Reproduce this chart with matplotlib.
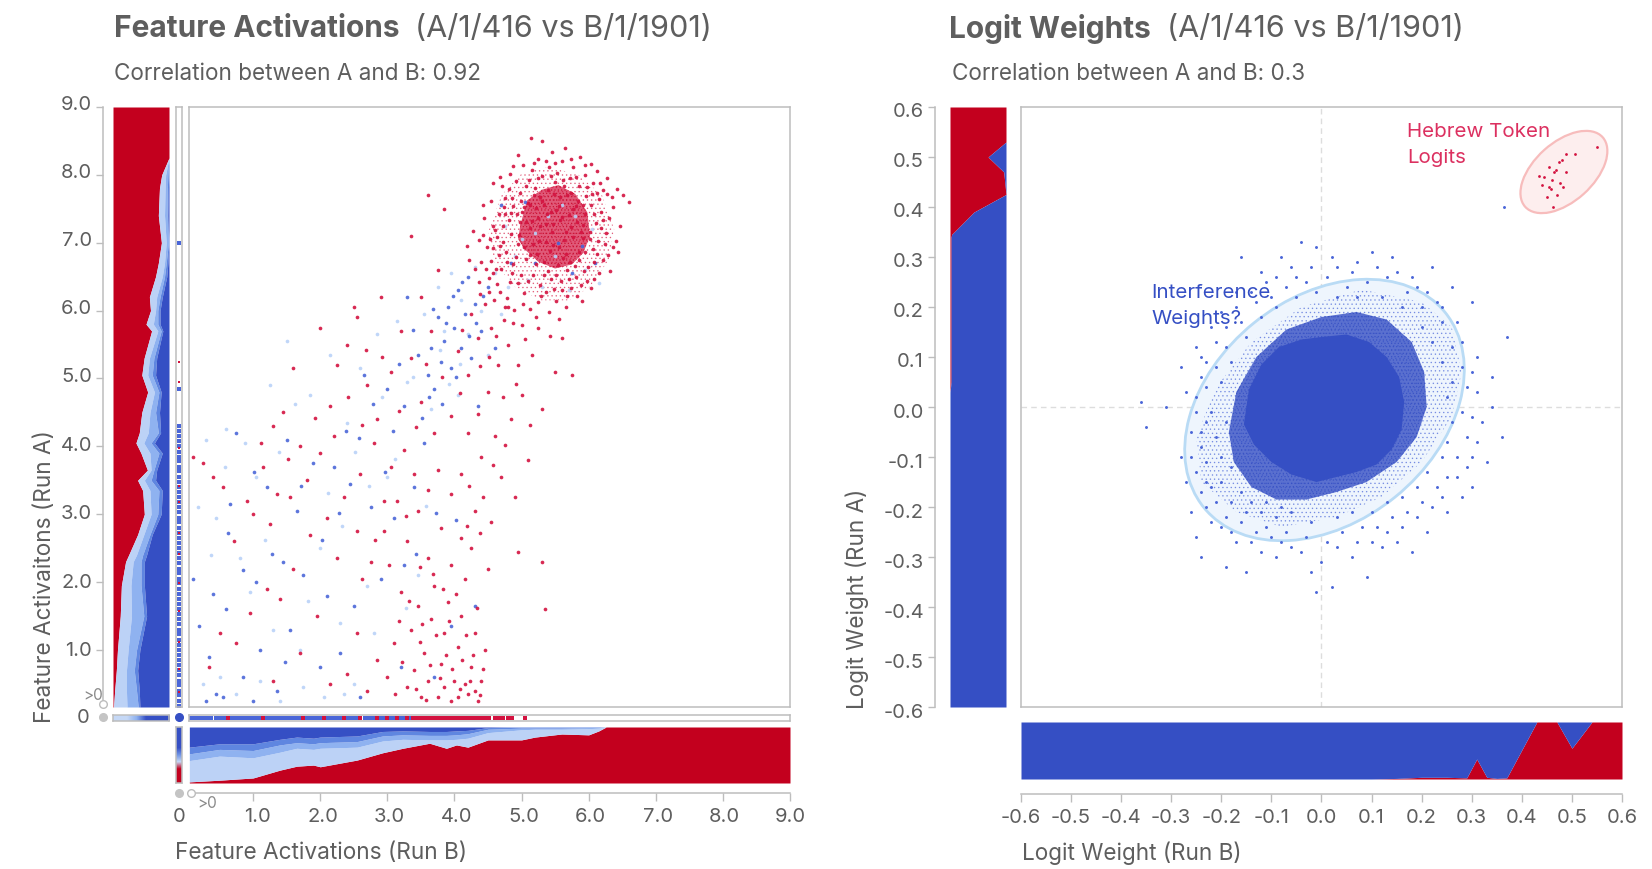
"""Feature activations and logit weights, run A vs run B, with stacked marginals.
Point lists are a hand-read sample of the reference; dense cores are drawn as outlines."""

import matplotlib
matplotlib.use('Agg')
import matplotlib.pyplot as plt
from matplotlib.colors import LinearSegmentedColormap
from matplotlib.patches import Ellipse, Polygon
from matplotlib.transforms import ScaledTranslation

W, H = 1652, 869
plt.rcParams['font.family'] = ['Inter', 'DejaVu Sans']
plt.rcParams['hatch.linewidth'] = 0.5

RED = '#c3001e'
BLUE = '#354fc4'
DOT_RED = '#d3123f'
DOT_BLUE = '#4a66d8'
DOT_PALE = '#bad2f8'
GREY = '#5e5e5e'
LINE = '#bdbdbd'
BANDS = ['#bcd2f6', '#8fb2f0', '#5f86e0']

# left marginal of the activation panel: stacked share at each activation level
a_y = [9, 8.3, 8.25, 8.0, 7.8, 7.4, 7.0, 6.7, 6.5, 6.2, 6.0, 5.8, 5.7, 5.3, 5.05, 4.8, 4.5, 4.2, 4.05, 3.9,
       3.65, 3.5, 3.35, 3.0, 2.7, 2.4, 2.3, 1.95, 1.5, 1.0, .7, .4, .16]
a_red = [1, 1, 1, .87, .83, .81, .865, .81, .76, .65, .67, .59, .69, .556, .515, .62, .515, .47, .41, .5,
         .615, .44, .53, .56, .44, .28, .225, .15, .13, .08, .06, .03, .01]
a_pale = [1, 1, 1, .94, .93, .92, .95, .92, .88, .78, .76, .72, .8, .65, .62, .74, .66, .63, .55, .66,
          .68, .56, .66, .68, .55, .42, .36, .32, .33, .27, .24, .24, .25]
a_sky = [1, 1, 1, .98, .97, .97, .99, .95, .92, .84, .8, .8, .86, .73, .7, .82, .76, .81, .68, .82,
         .73, .68, .82, .8, .66, .53, .5, .5, .55, .42, .38, .42, .45]
a_mid = [1, 1, 1, 1, .99, .98, 1, .98, .96, .88, .84, .84, .89, .78, .76, .86, .83, .85, .74, .88,
         .78, .76, .88, .86, .7, .6, .56, .56, .6, .48, .44, .47, .48]

# bottom marginal of the activation panel
b_x = [.05, .5, 1.0, 1.4, 1.65, 1.9, 2.0, 2.55, 2.93, 3.23, 3.63, 3.88, 4.03, 4.2, 4.5, 5.0, 5.2, 5.6, 6.0, 6.15, 6.26, 9]
b_red = [.02, .05, .09, .23, .3, .32, .29, .41, .54, .62, .71, .62, .68, .64, .77, .77, .82, .875, .86, .93, 1, 1]
b_pale = [.4, .48, .45, .55, .62, .6, .62, .64, .75, .78, .77, .77, .78, .8, .9, .95, .96, .96, .97, .98, 1, 1]
b_sky = [.52, .6, .58, .68, .72, .7, .72, .74, .84, .86, .85, .85, .86, .88, .96, .98, .98, .98, .99, .99, 1, 1]
b_mid = [.64, .7, .7, .78, .82, .8, .82, .84, .92, .93, .92, .92, .93, .94, .99, 1, 1, 1, 1, 1, 1, 1]

# marginals of the logit panel
r_y = [.6, .53, .5, .47, .425, .39, .345, .34, .05, .03, -.6]
r_red = [1, 1, .68, .96, 1, .43, .03, .02, .02, 0, 0]
s_x = [-.6, .1, .15, .2, .25, .29, .31, .33, .35, .37, .43, .47, .5, .54, .6]
s_red = [0, 0, .01, .03, .03, .02, .35, .03, .01, .02, 1, 1, .54, 1, 1]

# activation scatter, cluster near (5.45, 7.3)
cluster_red = [
    (5.14, 8.55), (5.65, 8.4), (5.3, 8.5), (4.95, 8.3), (5.45, 8.33), (5.02, 8.15), (5.87, 8.27), (5.6, 8.2), (5.25, 8.24),
    (6.13, 8.05), (5.77, 8.11), (5.41, 8.12), (5.16, 8.07), (4.83, 8.02), (5.95, 8.0), (6.27, 7.96), (5.53, 8.03), (5.31, 7.99),
    (4.71, 7.83), (4.92, 7.91), (5.11, 7.93), (5.72, 7.96), (6.07, 7.88), (6.42, 7.79), (5.5, 7.9), (5.86, 7.84), (6.22, 7.77),
    (6.6, 7.6), (6.51, 7.71), (4.55, 7.61), (4.76, 7.66), (4.97, 7.74), (5.2, 7.81), (5.39, 7.78), (5.63, 7.83), (5.74, 7.74),
    (5.96, 7.69), (6.16, 7.64), (6.36, 7.53), (6.31, 7.36), (6.47, 7.24), (6.19, 7.46), (6.04, 7.56), (5.84, 7.61), (5.67, 7.7),
    (5.49, 7.72), (5.28, 7.67), (5.09, 7.59), (4.88, 7.54), (4.66, 7.43), (4.44, 7.36), (4.61, 7.19), (4.81, 7.33), (5.01, 7.46),
    (5.21, 7.51), (5.34, 7.56), (5.56, 7.54), (5.76, 7.49), (5.94, 7.43), (6.11, 7.29), (6.26, 7.14), (6.14, 7.02), (6.37, 6.94),
    (6.02, 7.16), (5.83, 7.31), (5.71, 7.41), (5.44, 7.46), (5.24, 7.37), (5.06, 7.31), (4.84, 7.13), (4.72, 7.01), (4.49, 6.94),
    (4.36, 7.04), (4.54, 6.73), (4.77, 6.86), (4.96, 7.11), (5.13, 7.21), (5.36, 7.27), (5.57, 7.33), (5.73, 7.23), (5.91, 7.07),
    (6.06, 6.91), (6.21, 6.74), (5.99, 6.64), (5.86, 6.87), (5.64, 7.04), (5.46, 7.16), (5.26, 7.03), (5.04, 6.94), (4.91, 6.79),
    (4.69, 6.61), (4.51, 6.48), (4.31, 6.62), (4.64, 6.39), (4.86, 6.56), (5.07, 6.76), (5.23, 6.84), (5.47, 6.96), (5.66, 6.83),
    (5.79, 6.66), (5.97, 6.44), (5.71, 6.46), (5.54, 6.67), (5.33, 6.71), (5.17, 6.53), (4.94, 6.41), (4.79, 6.19), (5.03, 6.26),
    (5.27, 6.38), (5.44, 6.46), (5.61, 6.31), (5.82, 6.21), (5.52, 6.14), (5.29, 6.22), (5.12, 6.03), (4.89, 6.01), (5.41, 5.98),
    (5.66, 6.06), (4.59, 6.16), (4.38, 6.24), (5.22, 5.91), (5.56, 5.88), (4.74, 5.86), (5.01, 5.79), (6.32, 6.58), (6.44, 6.86),
    (6.17, 7.88), (6.35, 7.68), (6.28, 7.72), (6.05, 7.72), (4.58, 7.88), (4.82, 7.79), (4.42, 7.56), (4.28, 7.18), (4.18, 6.95),
    (4.22, 6.74), (4.47, 6.62), (4.57, 6.92), (4.67, 6.82), (4.37, 6.42), (4.52, 6.28), (4.68, 6.28), (4.83, 6.42), (5.09, 6.44),
    (5.37, 6.27), (5.74, 6.33), (5.88, 6.38), (6.03, 6.34), (6.16, 6.56), (6.29, 6.82), (6.41, 7.02), (6.24, 6.98), (6.12, 6.84),
    (4.99, 6.52), (5.21, 6.68), (5.39, 6.58), (5.59, 6.44), (5.81, 6.5), (5.93, 6.58), (4.78, 6.72), (4.63, 7.08), (4.57, 7.24),
    (4.73, 7.24), (4.93, 7.42), (4.86, 7.66), (5.06, 7.84), (5.24, 7.95), (5.44, 7.98), (5.62, 7.92), (5.81, 7.97), (5.97, 7.82),
    (6.12, 7.74), (5.18, 8.17), (5.36, 8.2), (5.5, 8.18), (5.74, 8.24), (5.94, 8.14), (4.88, 8.13), (6.03, 8.16), (4.68, 7.97),
    (4.53, 7.05), (4.74, 7.52), (4.99, 7.62), (5.19, 7.7), (5.58, 7.68), (5.92, 7.56), (6.08, 7.42), (6.18, 7.22), (6.22, 7.34),
    (4.68, 6.95), (4.88, 6.68), (5.12, 6.82), (5.33, 6.52), (5.51, 6.52), (5.68, 6.6), (5.85, 6.74), (6.08, 6.72), (5.95, 6.86),
    (4.42, 7.12), (4.76, 7.42), (4.95, 6.98), (5.17, 6.98), (5.72, 6.72), (5.92, 7.26), (6.02, 7.05), (4.84, 7.44), (4.62, 6.62),
    (4.4, 6.72), (4.8, 6.05), (5.02, 6.1), (5.24, 6.12), (5.48, 6.32), (5.68, 6.22), (5.9, 6.14), (6.08, 6.46), (4.58, 6.55),
    (5.31, 7.62), (5.52, 7.48), (5.12, 7.55), (5.38, 7.42), (5.61, 7.38), (5.81, 7.54), (5.47, 7.28), (5.28, 7.25), (5.66, 7.16),
    (5.36, 7.01), (5.56, 6.93), (5.77, 7.08), (5.16, 7.32), (5.04, 7.52), (4.98, 7.3), (5.88, 7.16), (5.42, 6.88), (5.62, 6.78),
]

# activation scatter, the spread below the cluster
spread_red = [
    (.1, 3.85), (.25, 3.75), (.4, 3.55), (.55, 3.4), (.72, 2.6), (.91, 3.2), (1.15, 3.7), (1.3, 4.3), (1.45, 4.5), (1.6, 5.15),
    (1.8, 3.5), (2.0, 3.9), (2.15, 4.6), (2.25, 5.2), (2.4, 5.5), (2.55, 5.9), (2.7, 4.9), (2.85, 4.4), (3.05, 5.1), (3.2, 5.7),
    (3.35, 5.3), (3.5, 6.2), (3.65, 5.7), (3.75, 6.6), (3.85, 7.5), (3.6, 7.7), (3.35, 7.1), (2.9, 6.2), (2.5, 6.05), (2.0, 5.75),
    (4.05, 5.4), (4.2, 5.05), (4.35, 5.6), (4.5, 4.8), (4.65, 5.2), (4.8, 5.5), (5.0, 4.75), (5.15, 5.35), (5.3, 4.55), (5.5, 5.1),
    (5.75, 5.05), (4.85, 4.4), (4.6, 4.15), (4.4, 3.85), (4.2, 4.2), (3.95, 4.45), (3.7, 4.2), (3.5, 4.65), (3.25, 3.95), (3.05, 3.7),
    (2.8, 4.05), (2.6, 3.6), (2.35, 3.25), (2.1, 2.95), (1.85, 2.7), (1.6, 2.2), (1.4, 1.75), (1.2, 1.9), (.95, 1.55), (.75, 1.1),
    (.5, 1.25), (.35, .75), (1.0, 3.0), (1.25, 2.85), (1.55, 3.25), (2.25, 2.35), (2.55, 2.75), (2.75, 2.3), (2.95, 2.75), (3.15, 3.2),
    (3.3, 2.6), (3.45, 3.05), (3.6, 2.35), (3.8, 2.8), (3.95, 3.3), (4.1, 2.65), (4.3, 3.05), (4.5, 2.2), (4.95, 2.45), (5.3, 2.3),
    (5.35, 1.6), (3.2, 1.85), (3.35, 1.3), (3.45, 1.65), (3.55, .95), (3.65, 1.45), (3.7, 1.95), (3.8, .8), (3.85, 1.25), (3.9, 1.7),
    (4.0, .55), (4.05, 1.05), (4.1, 1.5), (4.15, 2.05), (4.2, .35), (4.25, .75), (4.3, 1.25), (4.35, .25), (4.4, .55), (4.45, 1.0),
    (3.3, .45), (3.4, .7), (3.5, .3), (3.6, .55), (3.75, .3), (3.85, .45), (3.95, .25), (4.05, .3), (4.15, .5), (4.3, .4),
    (3.0, .6), (3.1, 1.1), (2.85, .85), (2.7, .4), (2.55, 1.25), (2.4, .65), (2.15, .5), (1.95, 1.5), (1.7, .95), (1.3, .55),
    (3.95, 2.25), (4.25, 2.5), (3.6, 3.35), (3.4, 3.6), (3.75, 3.65), (4.1, 3.6), (4.7, 3.55), (4.9, 3.25), (5.1, 3.8), (4.75, 6.05),
    (4.55, 5.75), (4.25, 5.95), (4.45, 6.1), (4.95, 5.2), (5.25, 5.75), (5.6, 5.6), (2.95, 3.2), (2.2, 4.15), (1.7, 4.0), (1.35, 3.3),
    (3.12, .35), (3.22, .82), (3.42, .42), (3.48, 1.12), (3.58, .26), (3.63, .78), (3.72, 1.22), (3.78, .58), (3.88, .92), (3.92, 1.42),
    (3.97, .72), (4.02, 1.82), (4.08, .42), (4.12, .85), (4.17, 1.22), (4.23, .55), (4.28, .92), (4.33, 1.62), (4.38, .33), (4.42, .72),
    (3.52, 1.38), (3.33, 1.72), (3.18, 1.42), (3.68, 2.12), (3.83, 1.9), (3.48, 2.22), (3.28, 2.98), (3.02, 2.25), (2.82, 2.62), (2.62, 2.05),
    (4.18, 2.82), (4.38, 2.72), (4.55, 2.88), (4.22, 3.42), (4.42, 3.26), (4.58, 3.72), (4.75, 4.02), (4.35, 4.48), (4.08, 4.78), (3.82, 5.02),
    (3.58, 5.22), (3.42, 4.28), (3.18, 4.52), (2.92, 5.32), (2.68, 5.42), (2.42, 4.72), (2.62, 4.32), (1.92, 4.42), (1.52, 3.82), (1.12, 4.05),
    (4.52, 5.32), (4.72, 4.72), (4.92, 4.92), (5.12, 4.32), (5.42, 5.62), (5.05, 5.58), (4.88, 5.82), (4.62, 5.62), (4.38, 5.18), (4.12, 5.72),
]
blue_pts = [
    (.1, 2.05), (.2, 1.35), (.35, .9), (.45, .35), (.6, 1.6), (.65, 3.15), (.75, 4.2), (.85, .6), (1.05, 2.0), (1.1, 1.0),
    (1.2, 3.4), (1.35, .4), (1.45, 2.3), (1.55, 1.3), (1.65, 3.05), (1.75, 2.1), (1.9, 3.75), (2.0, .75), (2.1, 1.8), (2.3, .95),
    (2.45, 3.45), (2.5, 1.65), (2.65, 5.05), (2.75, 3.1), (2.9, 2.05), (3.0, 4.85), (3.1, 2.95), (3.25, 4.6), (3.3, 6.2), (3.4, 3.4),
    (3.45, 5.35), (3.55, 4.05), (3.6, 5.05), (3.65, 5.45), (3.7, 4.85), (3.75, 5.9), (3.8, 5.25), (3.85, 5.55), (3.9, 6.05), (3.95, 5.15),
    (4.0, 5.75), (4.05, 6.3), (4.1, 5.45), (4.15, 5.95), (4.2, 6.5), (4.25, 5.3), (4.3, 6.1), (4.35, 4.6), (4.4, 5.7), (4.5, 6.35),
    (4.6, 5.45), (4.7, 7.55), (4.85, 6.7), (5.05, 7.6), (5.2, 6.7), (5.75, 6.55), (5.55, 7.0), (5.9, 6.95), (6.1, 6.7), (4.3, 1.65),
    (3.95, 1.35), (3.7, .6), (3.2, .75), (3.25, 2.25), (2.6, .3), (1.0, .25), (.3, .25), (.55, .3), (2.2, 3.7), (1.5, 4.1),
    (.4, 1.82), (.62, 2.72), (.85, 2.18), (1.02, 3.62), (1.28, 2.42), (1.48, .82), (1.72, 3.42), (2.02, 2.62), (2.28, 3.02), (2.38, 4.22),
    (2.58, 4.12), (2.78, 4.62), (2.96, 3.62), (3.08, 4.22), (3.18, 5.22), (3.38, 5.72), (3.52, 4.42), (3.68, 6.02), (3.88, 5.82), (3.98, 6.22),
    (4.12, 6.42), (4.22, 5.62), (4.32, 5.82), (4.42, 6.22), (4.02, 5.02), (3.82, 4.62), (3.62, 4.72), (3.42, 2.42), (3.72, 3.02), (4.02, 2.92),
]
pale_pts = [
    (.3, 4.1), (.45, 2.95), (.6, 4.25), (.8, 2.35), (.95, 1.85), (1.05, 3.55), (1.25, 4.9), (1.3, 1.3), (1.5, 5.55), (1.7, 1.0),
    (1.85, 4.75), (2.0, 2.5), (2.15, 5.35), (2.3, 1.4), (2.4, 4.35), (2.6, 5.15), (2.7, 1.95), (2.85, 5.65), (3.0, 3.55), (3.15, 5.85),
    (3.3, 4.95), (3.45, 2.1), (3.55, 5.95), (3.65, 4.55), (3.75, 6.35), (3.85, 5.7), (3.95, 6.55), (4.05, 4.75), (4.1, 6.15), (4.2, 5.65),
    (4.3, 6.65), (4.4, 6.0), (4.5, 5.35), (4.6, 6.55), (4.7, 5.95), (4.8, 6.35), (4.9, 6.8), (5.0, 7.05), (5.1, 6.45), (5.2, 7.15),
    (5.3, 6.35), (5.4, 7.4), (5.5, 6.8), (5.6, 7.55), (5.7, 6.3), (5.8, 7.4), (5.95, 6.6), (6.05, 7.2), (6.15, 6.4), (4.75, 7.25),
    (.25, .5), (.5, .6), (.75, .35), (1.1, .55), (1.4, .25), (1.75, .45), (2.05, .3), (2.35, .35), (2.5, .5), (2.8, 1.25),
    (.18, 3.1), (.38, 2.4), (.58, 3.7), (.88, 4.05), (1.18, 2.62), (1.38, 3.92), (1.62, 4.62), (1.82, 1.72), (2.12, 3.32), (2.32, 2.82),
    (2.52, 3.92), (2.72, 3.42), (2.92, 4.72), (3.12, 3.82), (3.28, 1.62), (3.38, 5.02), (3.58, 3.12), (3.78, 5.42), (3.92, 4.92), (4.08, 5.22),
]

# cells where run A or run B is exactly zero
zero_col_blue = [7.0, 4.85, 4.3, 4.22, 4.15, 4.08, 4.0, 3.92, 3.85, 3.78, 3.7, 3.63, 3.55, 3.48, 3.4, 3.33, 3.25, 3.18, 3.1, 3.03,
                 2.95, 2.88, 2.8, 2.73, 2.65, 2.58, 2.5, 2.43, 2.35, 2.28, 2.2, 2.13, 2.05, 1.98, 1.9, 1.83, 1.75, 1.68, 1.6,
                 1.53, 1.45, 1.38, 1.3, 1.23, 1.15, 1.08, 1.0, .93, .85, .78, .7, .63, .55, .48, .4, .33, .25, .18]
zero_col_red = [5.25, 4.95, 3.98, 3.42, 3.18, 2.72, 2.42, 1.98, 1.58, 1.12, .72, .38]
zero_row_blue = [.08, .14, .2, .26, .32, .38, .44, .5, .56, .62, .68, .74, .8, .86, .92, .98, 1.04, 1.1, 1.16, 1.22, 1.28, 1.34,
                 1.4, 1.46, 1.52, 1.58, 1.64, 1.7, 1.76, 1.82, 1.88, 1.94, 2.0, 2.06, 2.12, 2.18, 2.24, 2.3, 2.36, 2.42, 2.48,
                 2.54, 2.6, 2.66, 2.72, 2.78, 2.84, 2.9, 2.96, 3.02, 3.08, 3.14, 3.2, 3.26, 3.32]
zero_row_red = [.62, 1.15, 1.75, 2.05, 2.35, 2.6, 2.85, 3.0, 3.15, 3.3, 3.38, 3.44, 3.5, 3.56, 3.62, 3.68, 3.74, 3.8, 3.86, 3.92,
                3.98, 4.04, 4.1, 4.16, 4.22, 4.28, 4.34, 4.4, 4.46, 4.52, 4.6, 4.66, 4.72, 4.8, 4.86, 5.05]

# activation cluster density outlines, densest first
dense_x = [4.98, 5.08, 5.3, 5.55, 5.8, 5.98, 6.02, 5.92, 5.75, 5.5, 5.25, 5.05, 4.95]
dense_y = [7.25, 7.62, 7.78, 7.85, 7.72, 7.45, 7.1, 6.85, 6.68, 6.62, 6.72, 6.9, 7.05]
mist_x = [4.5, 4.7, 5.0, 5.4, 5.85, 6.2, 6.38, 6.3, 6.02, 5.7, 5.3, 4.9, 4.6]
mist_y = [7.15, 7.7, 8.02, 8.12, 8.0, 7.7, 7.2, 6.75, 6.35, 6.15, 6.15, 6.35, 6.7]

# logit scatter: outline of the solid core, the denser halo, then loose points
core_x = [-.155, -.145, -.12, -.085, -.04, 0, .05, .095, .13, .155, .165, .16, .14, .11, .07, .03, -.01, -.06, -.1, -.135]
core_y = [-.035, .035, .085, .12, .135, .14, .145, .13, .1, .06, .01, -.045, -.085, -.115, -.13, -.14, -.15, -.135, -.11, -.075]
halo_x = [-.185, -.17, -.13, -.07, 0, .07, .13, .18, .205, .21, .19, .15, .09, .03, -.03, -.09, -.14, -.175]
halo_y = [-.05, .03, .1, .155, .18, .19, .175, .13, .07, 0, -.06, -.11, -.15, -.17, -.185, -.185, -.16, -.11]
haze_x = [.2, .08, -.04, -.14, -.21, -.25, -.24, -.17, -.08, .03, .12, .2, .26, .28, .26]
haze_y = [.21, .235, .2, .13, .04, -.06, -.15, -.21, -.24, -.22, -.18, -.11, -.02, .07, .16]
loose_blue = [
    (-.35, -.04), (-.36, .01), (-.31, .0), (-.25, .02), (-.28, -.1), (-.27, -.15), (-.26, -.21), (-.25, -.26), (-.24, -.3), (-.19, -.32),
    (-.15, -.33), (-.12, -.29), (-.09, -.3), (-.06, -.28), (-.02, -.33), (0, -.31), (.02, -.36), (-.01, -.37), (.06, -.3), (.09, -.34),
    (.12, -.28), (.15, -.27), (.18, -.29), (.21, -.25), (.25, -.21), (.28, -.18), (.3, -.16), (.33, -.11), (.36, -.06), (.34, .0),
    (.34, .06), (.37, .14), (.3, .21), (.26, .24), (.22, .28), (.14, .3), (.1, .31), (.06, .27), (.02, .3), (-.01, .32),
    (-.04, .33), (-.08, .3), (-.12, .27), (-.16, .3), (-.2, .19), (-.22, .16), (-.25, .12), (-.28, .08), (-.27, .03), (-.24, .1),
    (-.26, -.05), (-.24, -.08), (-.25, -.13), (-.23, -.03), (-.22, -.16), (-.23, -.2), (-.2, -.24), (-.17, -.27), (-.13, -.25), (-.1, -.26),
    (-.07, -.25), (-.03, -.26), (.01, -.27), (.04, -.25), (.08, -.24), (.11, -.24), (.14, -.22), (.17, -.21), (.2, -.19), (.23, -.16),
    (.25, -.14), (.27, -.1), (.29, -.06), (.28, -.01), (.29, .04), (.28, .08), (.26, .12), (.24, .17), (.2, .2), (.17, .23),
    (.13, .26), (.09, .25), (.05, .24), (.01, .26), (-.03, .25), (-.07, .24), (-.1, .22), (-.13, .21), (-.16, .17), (-.19, .12),
    (-.21, .08), (-.23, .04), (-.22, -.01), (-.21, -.06), (-.2, -.1), (-.2, -.15), (-.18, -.19), (-.15, -.21), (-.12, -.21), (-.09, -.22),
    (-.06, -.21), (-.02, -.23), (.03, -.22), (.06, -.21), (.1, -.21), (.13, -.19), (.16, -.18), (.19, -.16), (.21, -.13), (.24, -.1),
    (.25, -.07), (.26, -.03), (.25, .02), (.26, .05), (.24, .09), (.22, .13), (.2, .16), (.16, .2), (.12, .22), (.07, .22),
    (.03, .22), (-.01, .23), (-.05, .22), (-.09, .2), (-.12, .18), (-.15, .14), (-.18, .09), (-.2, .05), (-.19, -.03), (-.18, -.12),
    (-.16, -.17), (-.23, -.11), (-.21, -.19), (.31, .1), (.32, -.03), (.3, -.1), (.23, .21), (.18, .26), (-.06, .28), (-.17, .23),
    (.365, .4), (-.24, -.17), (-.26, -.1), (-.22, -.23), (-.18, -.25), (-.14, -.27), (-.11, -.24), (-.08, -.27), (-.04, -.29), (.03, -.28),
    (.07, -.27), (.1, -.27), (.13, -.25), (.16, -.24), (.19, -.22), (.22, -.2), (.24, -.18), (.27, -.14), (.29, -.12), (.31, -.07),
    (.3, -.02), (.31, .03), (.3, .07), (.28, .13), (.27, .17), (.24, .2), (.21, .23), (.19, .24), (.15, .27), (.11, .28),
    (.07, .29), (.03, .28), (-.02, .28), (-.05, .26), (-.09, .26), (-.11, .25), (-.14, .23), (-.17, .2), (-.19, .16), (-.21, .13),
    (-.23, .09), (-.24, .06), (-.25, -.01), (-.24, -.05), (-.23, -.15), (-.19, -.22), (-.16, -.23), (-.14, -.19), (-.11, -.19), (-.08, -.2),
]
hebrew_red = [
    (.55, .52), (.507, .507), (.488, .507), (.48, .495), (.455, .48), (.468, .474), (.434, .463), (.46, .455), (.488, .47), (.476, .448),
    (.458, .436), (.47, .425), (.483, .44), (.462, .4), (.45, .42), (.445, .46), (.475, .49), (.455, .44), (.465, .47), (.44, .445),
]

# tick label drift against the ticks, pixels
a_xlabel_dx = [4, 3, 2, 2, 2, 2, 2, 1, 0]
a_ylabel_dy = [1, 1.5, 2, 2.5, 3, 3.5, 4, 4, 4]
r_ylabel_dy = [3, 3, 3, 3, 3, 3, 3.5, 3.5, 4, 4, 4, 4, 4]

fig = plt.figure(figsize=(W / 100, H / 100), dpi=100)


def px_axes(left, top, right, bottom):
    return fig.add_axes([left / W, 1 - bottom / H, (right - left) / W, (bottom - top) / H])


def px_text(x, y, s, **kw):
    fig.text(x / W, 1 - y / H, s, **kw)


def px_dot(x, y, **kw):
    fig.add_artist(plt.Line2D([x / W], [1 - y / H], marker='o', markersize=5.5, transform=fig.transFigure, **kw))


def frame(ax):
    ax.set_xticks([])
    ax.set_yticks([])
    for s in ax.spines.values():
        s.set_color(LINE)
        s.set_linewidth(1.1)


def y_axis(ax, ticks, out, nudges):
    ax.spines['left'].set_position(('outward', out))
    ax.set_yticks(ticks)
    ax.set_yticklabels([f'{t:.1f}' for t in ticks])
    ax.tick_params(axis='y', length=5, width=1, color=LINE, labelcolor=GREY, labelsize=14.5, pad=3)
    for lab, dy in zip(ax.get_yticklabels(), nudges):
        lab.set_transform(lab.get_transform() + ScaledTranslation(0, dy * .72 / 72, fig.dpi_scale_trans))


def x_axis(ax, ticks, out, nudges=None):
    ax.spines['bottom'].set_position(('outward', out))
    ax.set_xticks(ticks)
    ax.set_xticklabels([f'{t:.1f}' for t in ticks])
    ax.tick_params(axis='x', length=5.5, width=1, color=LINE, labelcolor=GREY, labelsize=14.5, pad=5)
    for lab, dx in zip(ax.get_xticklabels(), nudges or [0] * len(ticks)):
        lab.set_transform(lab.get_transform() + ScaledTranslation(dx * .72 / 72, 0, fig.dpi_scale_trans))


def stack_y(ax, ys, edges, colors):
    lower = [0] * len(ys)
    for edge, col in zip(edges, colors):
        ax.fill_betweenx(ys, lower, edge, color=col, lw=0)
        lower = edge


def stack_x(ax, xs, edges, colors):
    lower = [0] * len(xs)
    for edge, col in zip(edges, colors):
        ax.fill_between(xs, lower, edge, color=col, lw=0)
        lower = edge


def dots(ax, pts, color, s=7, alpha=.9, zorder=3):
    ax.scatter([p[0] for p in pts], [p[1] for p in pts], s=s, color=color, alpha=alpha, lw=0, zorder=zorder)


X0, X1 = .045, 9.0
Y0, Y1 = .16, 9.0
ones = [1] * len(a_y)

# activation panel
main = px_axes(189, 107, 790, 707)
frame(main)
main.set_xlim(X0, X1)
main.set_ylim(Y0, Y1)
main.add_patch(Polygon(list(zip(mist_x, mist_y)), fc='none', ec=DOT_RED, alpha=.55, lw=0, hatch='....', zorder=1))
main.add_patch(Polygon(list(zip(dense_x, dense_y)), fc=DOT_RED, ec=RED, alpha=.7, lw=0, hatch='.....', zorder=2))
dots(main, pale_pts, DOT_PALE)
dots(main, blue_pts, DOT_BLUE)
dots(main, cluster_red + spread_red, DOT_RED)

left = px_axes(113, 107, 169, 707)
frame(left)
left.set_xlim(0, 1)
left.set_ylim(Y0, Y1)
stack_y(left, a_y, [a_red, a_pale, a_sky, a_mid, ones], [RED] + BANDS + [BLUE])
for name in ('top', 'right', 'bottom'):
    left.spines[name].set_visible(False)
y_axis(left, [1, 2, 3, 4, 5, 6, 7, 8, 9], 7.2, a_ylabel_dy)

bottom = px_axes(189, 727, 790, 783)
frame(bottom)
bottom.set_xlim(X0, X1)
bottom.set_ylim(0, 1)
stack_x(bottom, b_x, [b_red, b_pale, b_sky, b_mid, [1] * len(b_x)], [RED] + BANDS + [BLUE])
for name in ('top', 'right', 'left'):
    bottom.spines[name].set_visible(False)
x_axis(bottom, [1, 2, 3, 4, 5, 6, 7, 8, 9], 7.2, a_xlabel_dx)

zero_col = px_axes(176, 107, 182, 707)
frame(zero_col)
zero_col.set_xlim(-1, 1)
zero_col.set_ylim(Y0, Y1)
zero_col.scatter([0] * len(zero_col_blue), zero_col_blue, s=6, marker='s', color=DOT_BLUE, lw=0)
zero_col.scatter([0] * len(zero_col_red), zero_col_red, s=3.5, marker='s', color=DOT_RED, lw=0)

zero_row = px_axes(189, 715, 790, 721)
frame(zero_row)
zero_row.set_xlim(X0, X1)
zero_row.set_ylim(-1, 1)
zero_row.scatter(zero_row_blue, [0] * len(zero_row_blue), s=6, marker='s', color=DOT_BLUE, lw=0)
zero_row.scatter(zero_row_red, [0] * len(zero_row_red), s=5, marker='s', color=DOT_RED, lw=0)

row_cmap = LinearSegmentedColormap.from_list('row', ['#c5d8f6', '#8fb2f0', BLUE, BLUE])
cell = px_axes(113, 715, 169, 721)
frame(cell)
cell.imshow([[0, 1]], cmap=row_cmap, aspect='auto', interpolation='bilinear')

col_cmap = LinearSegmentedColormap.from_list('col', [RED, '#c5d8f6', '#6f93e4', BLUE, BLUE], N=256)
cell = px_axes(176, 727, 182, 783)
frame(cell)
cell.imshow([[0], [1]], cmap=col_cmap, aspect='auto', origin='lower', interpolation='bilinear')

px_dot(179, 717, color=BLUE)
px_dot(103, 717, color='#c4c4c4')
px_dot(179, 793, color='#c4c4c4')
px_dot(103, 704, color=LINE, markerfacecolor='white')
px_dot(191, 793, color=LINE, markerfacecolor='white')
px_text(93, 695, '>0', color='#8a8a8a', fontsize=11, ha='center', va='center')
px_text(83, 718, '0', color=GREY, fontsize=14.5, ha='center', va='center')
px_text(207, 804, '>0', color='#8a8a8a', fontsize=11, ha='center', va='center')
px_text(179, 817, '0', color=GREY, fontsize=14.5, ha='center', va='center')

# logit panel
logit = px_axes(1021, 107, 1622, 707)
frame(logit)
logit.set_xlim(-.6, .6)
logit.set_ylim(-.6, .6)
logit.axhline(0, color='#dddddd', lw=1, ls=(0, (4, 3)), zorder=0)
logit.axvline(0, color='#dddddd', lw=1, ls=(0, (4, 3)), zorder=0)
logit.add_patch(Ellipse((.006, -.006), .62, .448, angle=39, fc='#eef5fd', ec='#b9dbf5', lw=2, zorder=1))
logit.add_patch(Ellipse((.484, .47), .208, .118, angle=42, fc='#fdeeee', ec='#f7bcbc', lw=1.6, zorder=1))
logit.add_patch(Polygon(list(zip(haze_x, haze_y)), fc='none', ec=DOT_BLUE, alpha=.6, lw=0, hatch='....', zorder=2))
logit.add_patch(Polygon(list(zip(halo_x, halo_y)), fc=BLUE, ec=BLUE, alpha=.8, lw=0, hatch='.....', zorder=2))
logit.add_patch(Polygon(list(zip(core_x, core_y)), fc=BLUE, lw=0, zorder=3))
dots(logit, loose_blue, DOT_BLUE, s=4.5, alpha=1, zorder=4)
dots(logit, hebrew_red, DOT_RED, s=4, alpha=1, zorder=4)

left = px_axes(950, 107, 1006, 707)
frame(left)
left.set_xlim(0, 1)
left.set_ylim(-.6, .6)
stack_y(left, r_y, [r_red, [1] * len(r_y)], [RED, BLUE])
for name in ('top', 'right', 'bottom'):
    left.spines[name].set_visible(False)
y_axis(left, [.6, .5, .4, .3, .2, .1, 0, -.1, -.2, -.3, -.4, -.5, -.6], 10.8, [-d for d in r_ylabel_dy])

bottom = px_axes(1021, 722, 1622, 779)
frame(bottom)
bottom.set_xlim(-.6, .6)
bottom.set_ylim(0, 1)
stack_x(bottom, s_x, [s_red, [1] * len(s_x)], [RED, BLUE])
for name in ('top', 'right', 'left'):
    bottom.spines[name].set_visible(False)
x_axis(bottom, [-.6, -.5, -.4, -.3, -.2, -.1, 0, .1, .2, .3, .4, .5, .6], 10.8)

# titles and labels
for x, head, x2, tail, sub, xsub in [
    (114, 'Feature Activations', 415, '(A/1/416 vs B/1/1901)', 'Correlation between A and B: 0.92', 114),
    (949, 'Logit Weights', 1167, '(A/1/416 vs B/1/1901)', 'Correlation between A and B: 0.3', 952),
]:
    px_text(x, 29, head, color=GREY, fontsize=21.5, fontweight='bold', va='center')
    px_text(x2, 29, tail, color=GREY, fontsize=22, va='center')
    px_text(xsub, 74, sub, color=GREY, fontsize=16.2, va='center')

px_text(45, 723, 'Feature Activaitons (Run A)', color=GREY, fontsize=16.3, rotation=90, ha='center', va='bottom')
px_text(857, 709, 'Logit Weight (Run A)', color=GREY, fontsize=16.2, rotation=90, ha='center', va='bottom')
px_text(175, 853, 'Feature Activations (Run B)', color=GREY, fontsize=16.3, va='center')
px_text(1022, 853, 'Logit Weight (Run B)', color=GREY, fontsize=16.2, va='center')
px_text(1407, 132, 'Hebrew Token', color='#dc3060', fontsize=14.8, va='center')
px_text(1407, 158, 'Logits', color='#dc3060', fontsize=14.8, va='center')
px_text(1151, 293, 'Interference', color=BLUE, fontsize=14.8, va='center')
px_text(1151, 319, 'Weights?', color=BLUE, fontsize=14.8, va='center')

fig.savefig('out.png', dpi=100)
